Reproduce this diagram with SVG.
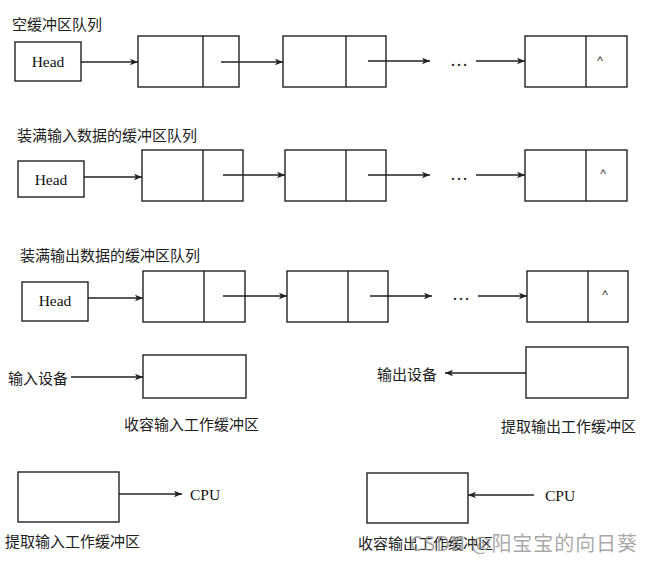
<svg xmlns="http://www.w3.org/2000/svg" width="654" height="563" viewBox="0 0 654 563">
<style>
.box{fill:#fff;stroke:#222;stroke-width:1.4}
.div{stroke:#222;stroke-width:1.4}
.cn{font-family:"Noto Sans CJK SC","Noto Sans CJK JP",sans-serif;font-size:15px;fill:#222}
.en{font-family:"Liberation Serif","Times New Roman",serif;font-size:15.5px;fill:#111}
.dots{font-family:"Liberation Serif",serif;font-size:18px;fill:#222}
.caret{font-family:"Liberation Sans",sans-serif;font-size:12px;fill:#333}
.arr{stroke:#222;stroke-width:1.6;fill:none;marker-end:url(#ah)}
.wm{font-family:"Noto Sans CJK SC",sans-serif;font-size:20px;fill:#999;fill-opacity:0.85}
</style>
<defs>
<marker id="ah" markerUnits="userSpaceOnUse" markerWidth="9" markerHeight="8" refX="8" refY="4" orient="auto">
<path d="M0,0.8 L8,4 L0,7.2 L2,4 Z" fill="#222"/>
</marker>
</defs>
<rect width="654" height="563" fill="#fff"/>

<!-- Row 1 -->
<text class="cn" x="12" y="30">空缓冲区队列</text>
<g id="head1"><rect class="box" x="15" y="42" width="66" height="39"/><text class="en" x="48" y="67" text-anchor="middle">Head</text></g>
<g id="n1a"><rect class="box" x="138" y="36" width="101" height="51"/><line class="div" x1="203" y1="36" x2="203" y2="87"/></g>
<g id="n1b"><rect class="box" x="283" y="36" width="103" height="51"/><line class="div" x1="346" y1="36" x2="346" y2="87"/></g>
<text class="dots" x="459" y="66" text-anchor="middle">…</text>
<g id="n1c"><rect class="box" x="525" y="36" width="102" height="51"/><line class="div" x1="586" y1="36" x2="586" y2="87"/><text class="caret" x="600" y="65" text-anchor="middle">^</text></g>

<!-- Row 2 -->
<text class="cn" x="17" y="141">装满输入数据的缓冲区队列</text>
<g id="head2"><rect class="box" x="18" y="161" width="66" height="36"/><text class="en" x="51" y="185" text-anchor="middle">Head</text></g>
<g id="n2a"><rect class="box" x="142" y="150" width="101" height="51"/><line class="div" x1="203" y1="150" x2="203" y2="201"/></g>
<g id="n2b"><rect class="box" x="285" y="150" width="101" height="51"/><line class="div" x1="346" y1="150" x2="346" y2="201"/></g>
<text class="dots" x="459" y="180" text-anchor="middle">…</text>
<g id="n2c"><rect class="box" x="525" y="150" width="102" height="51"/><line class="div" x1="586" y1="150" x2="586" y2="201"/><text class="caret" x="603" y="178" text-anchor="middle">^</text></g>

<!-- Row 3 -->
<text class="cn" x="20" y="261">装满输出数据的缓冲区队列</text>
<g id="head3"><rect class="box" x="22" y="282" width="66" height="39"/><text class="en" x="55" y="306" text-anchor="middle">Head</text></g>
<g id="n3a"><rect class="box" x="143" y="271" width="102" height="51"/><line class="div" x1="204" y1="271" x2="204" y2="322"/></g>
<g id="n3b"><rect class="box" x="287" y="271" width="101" height="51"/><line class="div" x1="348" y1="271" x2="348" y2="322"/></g>
<text class="dots" x="461" y="300" text-anchor="middle">…</text>
<g id="n3c"><rect class="box" x="527" y="271" width="101" height="51"/><line class="div" x1="588" y1="271" x2="588" y2="322"/><text class="caret" x="605" y="299" text-anchor="middle">^</text></g>

<!-- Row 4 -->
<text class="cn" x="8" y="384">输入设备</text>
<g id="inbuf"><rect class="box" x="143" y="355" width="103" height="43"/></g>
<text class="cn" x="124" y="430">收容输入工作缓冲区</text>
<text class="cn" x="377" y="380">输出设备</text>
<g id="outbuf"><rect class="box" x="526" y="347" width="102" height="51"/></g>
<text class="cn" x="501" y="432">提取输出工作缓冲区</text>

<!-- Row 5 -->
<g id="fetchin"><rect class="box" x="18" y="472" width="101" height="50"/></g>
<text class="en" x="190" y="500">CPU</text>
<text class="cn" x="5" y="547">提取输入工作缓冲区</text>
<g id="storeout"><rect class="box" x="367" y="473" width="101" height="50"/></g>
<text class="en" x="545" y="501">CPU</text>
<text class="cn" x="358" y="549">收容输出工作缓冲区</text>
<text class="wm" x="410" y="551" textLength="227" lengthAdjust="spacing">CSDN @阳宝宝的向日葵</text>

<!-- Connectors -->
<g id="connectors">
<line class="arr" x1="81" y1="62" x2="138" y2="62"/>
<line class="arr" x1="221" y1="62" x2="283" y2="62"/>
<line class="arr" x1="368" y1="61" x2="430" y2="61"/>
<line class="arr" x1="476" y1="61" x2="525" y2="61"/>

<line class="arr" x1="84" y1="177" x2="142" y2="177"/>
<line class="arr" x1="223" y1="175" x2="285" y2="175"/>
<line class="arr" x1="368" y1="175" x2="430" y2="175"/>
<line class="arr" x1="476" y1="175" x2="525" y2="175"/>

<line class="arr" x1="88" y1="298" x2="143" y2="298"/>
<line class="arr" x1="223" y1="296" x2="287" y2="296"/>
<line class="arr" x1="370" y1="296" x2="432" y2="296"/>
<line class="arr" x1="478" y1="296" x2="527" y2="296"/>

<line class="arr" x1="71" y1="377" x2="143" y2="377"/>
<line class="arr" x1="526" y1="373" x2="445" y2="373"/>
<line class="arr" x1="119" y1="494" x2="182" y2="494"/>
<line class="arr" x1="534" y1="495" x2="468" y2="495"/>
</g>
</svg>
